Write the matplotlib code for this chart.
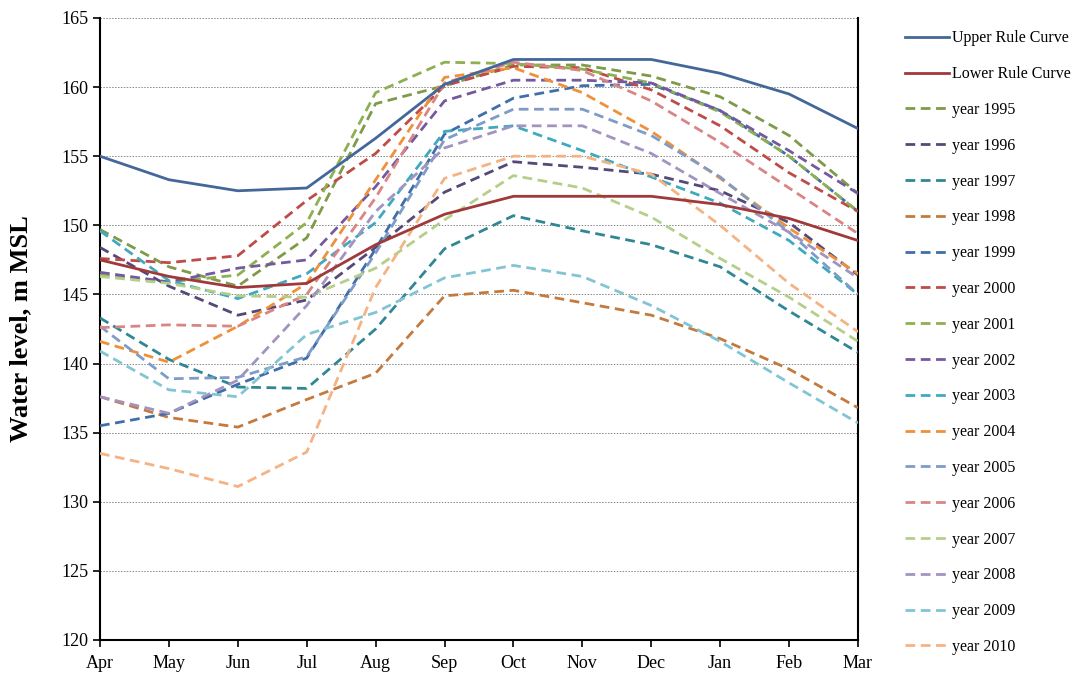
import matplotlib
matplotlib.use("Agg")
import matplotlib.pyplot as plt

months = ["Apr", "May", "Jun", "Jul", "Aug", "Sep", "Oct", "Nov", "Dec", "Jan", "Feb", "Mar"]

upper_rule = [155.0, 153.3, 152.5, 152.7, 156.3, 160.2, 162.0, 162.0, 162.0, 161.0, 159.5, 157.0]
lower_rule = [147.5, 146.3, 145.5, 145.8, 148.6, 150.8, 152.1, 152.1, 152.1, 151.5, 150.5, 148.9]

y1995 = [149.7, 147.0, 145.6, 149.1, 158.8, 160.1, 161.6, 161.6, 160.8, 159.3, 156.5, 152.3]
y1996 = [148.4, 145.6, 143.5, 144.6, 148.4, 152.4, 154.6, 154.2, 153.7, 152.5, 150.2, 146.4]
y1997 = [143.3, 140.3, 138.3, 138.2, 142.5, 148.3, 150.7, 149.6, 148.6, 147.0, 143.8, 140.8]
y1998 = [137.6, 136.1, 135.4, 137.4, 139.3, 144.9, 145.3, 144.4, 143.5, 141.8, 139.6, 136.8]
y1999 = [135.5, 136.4, 138.5, 140.4, 148.3, 156.6, 159.2, 160.1, 160.2, 158.3, 155.0, 151.0]
y2000 = [147.6, 147.3, 147.8, 151.8, 155.2, 160.1, 161.5, 161.4, 159.8, 157.2, 153.8, 151.0]
y2001 = [146.4, 145.9, 146.4, 150.2, 159.6, 161.8, 161.7, 161.3, 160.3, 158.2, 155.0, 151.0]
y2002 = [146.6, 145.9, 146.9, 147.5, 152.8, 159.0, 160.5, 160.5, 160.3, 158.3, 155.4, 152.3]
y2003 = [149.6, 146.0, 144.7, 146.5, 150.2, 156.8, 157.2, 155.4, 153.5, 151.6, 148.9, 145.0]
y2004 = [141.6, 140.1, 142.7, 145.8, 153.3, 160.7, 161.4, 159.6, 156.8, 153.4, 149.8, 146.5]
y2005 = [142.7, 138.9, 139.0, 140.5, 148.0, 156.2, 158.4, 158.4, 156.5, 153.5, 149.5, 145.0]
y2006 = [142.6, 142.8, 142.7, 145.0, 152.0, 160.3, 161.8, 161.2, 159.0, 156.0, 152.7, 149.4]
y2007 = [146.3, 145.8, 144.9, 144.8, 146.9, 150.4, 153.6, 152.7, 150.6, 147.6, 144.8, 141.6]
y2008 = [137.6, 136.4, 138.8, 144.2, 151.0, 155.6, 157.2, 157.2, 155.2, 152.3, 149.5, 146.2]
y2009 = [140.9, 138.1, 137.6, 142.1, 143.7, 146.2, 147.1, 146.3, 144.2, 141.6, 138.6, 135.7]
y2010 = [133.5, 132.4, 131.1, 133.6, 145.5, 153.4, 155.0, 155.0, 153.7, 150.0, 145.8, 142.3]

years = ["1995", "1996", "1997", "1998", "1999", "2000", "2001", "2002",
         "2003", "2004", "2005", "2006", "2007", "2008", "2009", "2010"]
year_values = [y1995, y1996, y1997, y1998, y1999, y2000, y2001, y2002,
               y2003, y2004, y2005, y2006, y2007, y2008, y2009, y2010]
year_colors = ["#7F9A48", "#564878", "#2F8794", "#C47A3E", "#3F6EA8", "#BE4B48",
               "#8DB050", "#7359A0", "#3FAABF", "#EE9138", "#7F9CC8", "#D98585",
               "#B5CF8A", "#A393C0", "#83C4D4", "#F5B383"]

plt.rcParams['font.family'] = ['Liberation Serif', 'DejaVu Serif']

fig = plt.figure(figsize=(10.83, 6.80), dpi=100)
ax = fig.add_axes([100/1083, 1-640/680, (858-100)/1083, (640-18)/680])

x = list(range(len(months)))
handles = []
h, = ax.plot(x, upper_rule, color="#44679A", lw=2.0, label="Upper Rule Curve", zorder=5)
handles.append(h)
h, = ax.plot(x, lower_rule, color="#A0393A", lw=2.0, label="Lower Rule Curve", zorder=5)
handles.append(h)
for yr, vals, c in zip(years, year_values, year_colors):
    h, = ax.plot(x, vals, color=c, lw=2.0, ls=(0, (3.5, 2)), label="year " + yr, zorder=3)
    handles.append(h)

ax.set_xlim(0, 11)
ax.set_ylim(120, 165)
ax.set_yticks(range(120, 166, 5))
ax.set_xticks(x)
ax.set_xticklabels(months)
ax.tick_params(axis='both', labelsize=13, direction='out', length=5, width=1.2, colors='black')
ax.tick_params(axis='x', pad=6)
ax.yaxis.grid(True, color='#888888', ls=(0, (1.5, 1.5)), lw=0.7)
ax.set_axisbelow(True)
for s in ['left', 'bottom', 'right']:
    ax.spines[s].set_linewidth(1.5)
    ax.spines[s].set_color('black')
ax.spines['top'].set_visible(False)
ax.set_ylabel("Water level, m MSL", fontsize=19, fontweight='bold')
ax.yaxis.set_label_coords(-68/758, 0.5)

fig.legend(handles=handles, loc='upper left', bbox_to_anchor=(899/1083, 1-24/680),
           frameon=False, fontsize=11.5, handlelength=2.75, handletextpad=0.15,
           labelspacing=1.24, borderaxespad=0)

fig.savefig("out.png", dpi=100)
